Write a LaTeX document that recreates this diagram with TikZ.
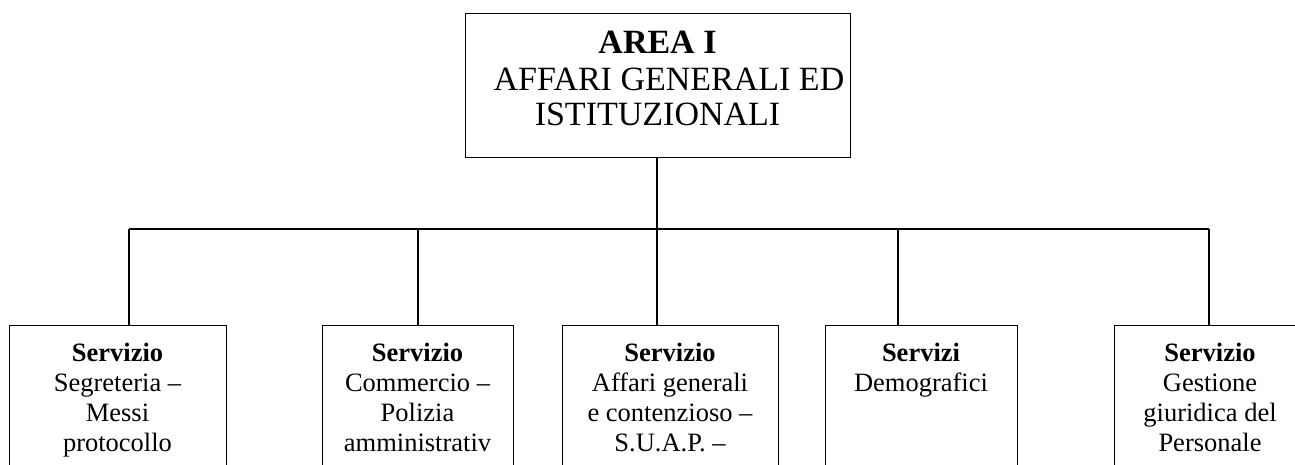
\documentclass[tikz,border=0pt]{standalone}
\usepackage{fontspec}
\setmainfont{Liberation Serif}
\begin{document}
\begin{tikzpicture}[x=1pt,y=-1pt,
  box/.style={draw=black,line width=1.3pt,inner sep=0pt,anchor=north west},
  conn/.style={draw=black,line width=1.3pt},
  toptext/.style={align=center,inner sep=0pt,anchor=north,font=\fontsize{34}{35}\selectfont},
  subtext/.style={align=center,inner sep=0pt,anchor=north,font=\fontsize{26.5}{30}\selectfont}]
\useasboundingbox (0,0) rectangle (1295,464);
\clip (0,0) rectangle (1295,464);
% top box
\node[box,minimum width=385pt,minimum height=144pt] (top) at (465,13) {};
\node[toptext] (toplbl) at (657.5,30.5) {\textbf{AREA I}\\[2pt]\hspace*{23pt}AFFARI GENERALI ED\\ISTITUZIONALI};
% child boxes
\node[box,minimum width=217pt,minimum height=200pt] (s1) at (9,325) {};
\node[box,minimum width=191pt,minimum height=200pt] (s2) at (322,325) {};
\node[box,minimum width=216pt,minimum height=200pt] (s3) at (562,325) {};
\node[box,minimum width=192pt,minimum height=200pt] (s4) at (825,325) {};
\node[box,minimum width=196pt,minimum height=200pt] (s5) at (1114,325) {};
\node[subtext] (t1) at (117.5,342.5) {\textbf{Servizio}\\Segreteria --\\Messi\\protocollo};
\node[subtext] (t2) at (417.5,342.5) {\textbf{Servizio}\\Commercio --\\Polizia\\amministrativ};
\node[subtext] (t3) at (670,342.5) {\textbf{Servizio}\\Affari generali\\e contenzioso --\\S.U.A.P. --};
\node[subtext] (t4) at (921,342.5) {\textbf{Servizi}\\Demografici};
\node[subtext] (t5) at (1210,342.5) {\textbf{Servizio}\\Gestione\\giuridica del\\Personale};
% junctions
\coordinate (bus) at (657,229);
\coordinate (j1) at (129,229);
\coordinate (j2) at (418,229);
\coordinate (j3) at (657,229);
\coordinate (j4) at (898,229);
\coordinate (j5) at (1209,229);
\draw[conn] (top.south -| bus) -- (bus);
\draw[conn] (j1) -- (j5);
\draw[conn] (j1) -- (j1 |- s1.north);
\draw[conn] (j2) -- (j2 |- s2.north);
\draw[conn] (j3) -- (j3 |- s3.north);
\draw[conn] (j4) -- (j4 |- s4.north);
\draw[conn] (j5) -- (j5 |- s5.north);
\end{tikzpicture}
\end{document}
